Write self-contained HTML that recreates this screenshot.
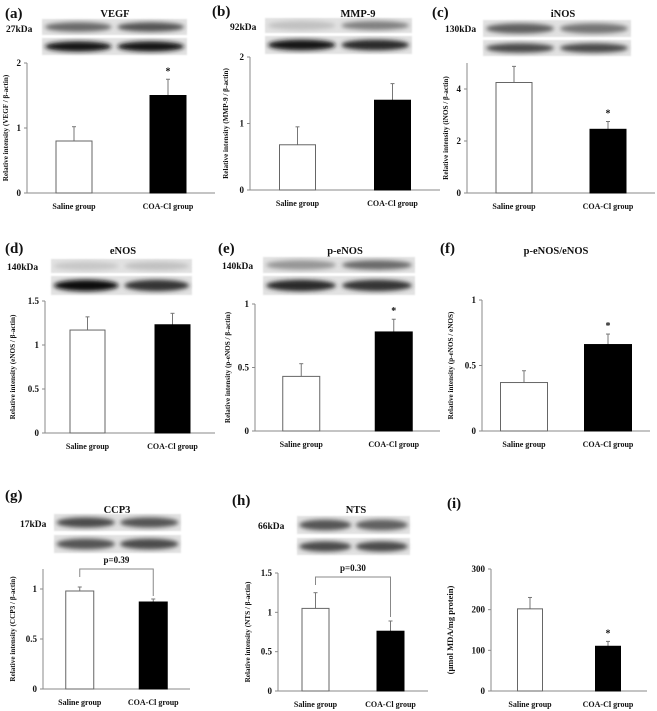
<!DOCTYPE html>
<html><head><meta charset="utf-8"><style>
html,body{margin:0;padding:0;background:#fff;}
svg{display:block;font-family:"Liberation Serif",serif;font-weight:bold;}
</style></head><body>
<svg id="fig" width="657" height="711" viewBox="0 0 657 711" xmlns="http://www.w3.org/2000/svg">
<defs>
<filter id="blur" x="-20%" y="-50%" width="140%" height="200%"><feGaussianBlur stdDeviation="2.2"/></filter>
<filter id="blur1" x="-5%" y="-20%" width="110%" height="140%"><feGaussianBlur stdDeviation="0.8"/></filter>
</defs>
</svg>
<script>
const categories = ["Saline group", "COA-Cl group"];
const vegfValues = [0.8, 1.5];
const vegfErrors = [0.22, 0.25];
const mmp9Values = [0.68, 1.35];
const mmp9Errors = [0.27, 0.25];
const inosValues = [4.25, 2.45];
const inosErrors = [0.62, 0.3];
const enosValues = [1.17, 1.23];
const enosErrors = [0.15, 0.13];
const penosValues = [0.43, 0.78];
const penosErrors = [0.1, 0.1];
const ratioValues = [0.37, 0.66];
const ratioErrors = [0.09, 0.08];
const ccp3Values = [0.98, 0.87];
const ccp3Errors = [0.04, 0.03];
const ntsValues = [1.05, 0.76];
const ntsErrors = [0.2, 0.13];
const mdaValues = [202, 110];
const mdaErrors = [28, 12];
const vegfTicks = [0, 1, 2];
const mmp9Ticks = [0, 1, 2];
const inosTicks = [0, 2, 4];
const enosTicks = [0, 0.5, 1, 1.5];
const penosTicks = [0, 0.5, 1];
const ratioTicks = [0, 0.5, 1];
const ccp3Ticks = [0, 0.5, 1];
const ntsTicks = [0, 0.5, 1, 1.5];
const mdaTicks = [0, 100, 200, 300];

const NS = "http://www.w3.org/2000/svg";
const svg = document.getElementById("fig");
function mk(tag, attrs, parent, text) {
  const e = document.createElementNS(NS, tag);
  for (const k in attrs) e.setAttribute(k, attrs[k]);
  if (text !== undefined) e.textContent = text;
  (parent || svg).appendChild(e);
  return e;
}

const panels = [
 {id:"vegf", letter:"(a)", lx:5, ly:18, title:"VEGF", tx:115, ty:17, values:vegfValues, errors:vegfErrors, ticks:vegfTicks, ymax:2,
  x0:27, xEnd:215, y0:193, yTop:63, bw:36, ytitle:"Relative intensity (VEGF / β-actin)", ytOff:19, ytSize:7.2, star:[false,true],
  blot:{x:42,w:145,t:[19,16],b:[38,17],kda:"27kDa",kx:6,ky:32,top:[0.55,0.65],bot:[0.95,0.95]}},
 {id:"mmp9", letter:"(b)", lx:212, ly:16, title:"MMP-9", tx:358, ty:17, values:mmp9Values, errors:mmp9Errors, ticks:mmp9Ticks, ymax:2,
  x0:250, xEnd:440, y0:190, yTop:57, bw:36, ytitle:"Relative intensity (MMP-9 / β-actin)", ytOff:22, ytSize:7.2, star:[false,false],
  blot:{x:265,w:147,t:[18,15],b:[36,18],kda:"92kDa",kx:230,ky:30,top:[0.15,0.45],bot:[0.95,0.85]}},
 {id:"inos", letter:"(c)", lx:432, ly:17, title:"iNOS", tx:563, ty:17, values:inosValues, errors:inosErrors, ticks:inosTicks, ymax:5,
  x0:467, xEnd:655, y0:193, yTop:63, bw:36, ytitle:"Relative intensity (iNOS / β-actin)", ytOff:19, ytSize:7.2, star:[false,true],
  blot:{x:483,w:148,t:[20,17],b:[40,16],kda:"130kDa",kx:445,ky:32,top:[0.6,0.5],bot:[0.7,0.7]}},
 {id:"enos", letter:"(d)", lx:5, ly:253, title:"eNOS", tx:123, ty:254, values:enosValues, errors:enosErrors, ticks:enosTicks, ymax:1.5,
  x0:45, xEnd:215, y0:433, yTop:301, bw:35, ytitle:"Relative intensity (eNOS / β-actin)", ytOff:30, ytSize:7.2, star:[false,false],
  blot:{x:51,w:141,t:[259,14],b:[276,19],kda:"140kDa",kx:7,ky:270,top:[0.12,0.15],bot:[1,0.8]}},
 {id:"penos", letter:"(e)", lx:218, ly:253, title:"p-eNOS", tx:345, ty:254, values:penosValues, errors:penosErrors, ticks:penosTicks, ymax:1,
  x0:255, xEnd:440, y0:431, yTop:304, bw:37, ytitle:"Relative intensity (p-eNOS / β-actin)", ytOff:25, ytSize:7.2, star:[false,true],
  blot:{x:263,w:152,t:[257,16],b:[276,19],kda:"140kDa",kx:222,ky:269,top:[0.35,0.55],bot:[0.85,0.8]}},
 {id:"ratio", letter:"(f)", lx:440, ly:253, title:"p-eNOS/eNOS", tx:556, ty:254, values:ratioValues, errors:ratioErrors, ticks:ratioTicks, ymax:1,
  x0:482, xEnd:650, y0:431, yTop:300, bw:47, ytitle:"Relative intensity (p-eNOS / eNOS)", ytOff:29, ytSize:7.2, star:[false,true], blot:null},
 {id:"ccp3", letter:"(g)", lx:5, ly:500, title:"CCP3", tx:117, ty:513, values:ccp3Values, errors:ccp3Errors, ticks:ccp3Ticks, ymax:1.2,
  x0:43, xEnd:190, y0:689, yTop:569, bw:28, ytitle:"Relative intensity (CCP3 / β-actin)", ytOff:28, ytSize:7.2, star:[false,false], p:{text:"p=0.39", y:569},
  blot:{x:54,w:127,t:[514,17],b:[535,18],kda:"17kDa",kx:20,ky:527,top:[0.7,0.65],bot:[0.65,0.7]}},
 {id:"nts", letter:"(h)", lx:232, ly:505, title:"NTS", tx:356, ty:513, values:ntsValues, errors:ntsErrors, ticks:ntsTicks, ymax:1.5,
  x0:278, xEnd:428, y0:691, yTop:573, bw:27, ytitle:"Relative intensity (NTS / β-actin)", ytOff:28, ytSize:7.2, star:[false,false], p:{text:"p=0.30", y:577},
  blot:{x:297,w:113,t:[516,18],b:[538,17],kda:"66kDa",kx:258,ky:529,top:[0.65,0.6],bot:[0.7,0.7]}},
 {id:"mda", letter:"(i)", lx:447, ly:508, title:null, values:mdaValues, errors:mdaErrors, ticks:mdaTicks, ymax:300,
  x0:491, xEnd:647, y0:691, yTop:569, bw:25, ytitle:"(μmol MDA/mg protein)", ytOff:38, ytSize:8.5, star:[false,true], blot:null}
];

function gray(d){const v=Math.round(225-d*215);return `rgb(${v},${v},${v})`;}

panels.forEach(p => {
  const g = mk("g", {});
  
  
  const yS = v => p.y0 - (v / p.ymax) * (p.y0 - p.yTop);
  const band = (p.xEnd - p.x0) / categories.length;
  const xC = i => p.x0 + (i + 0.5) * band;

  const L = mk("text", {x:p.lx, y:p.ly, "font-size":15, fill:"#111"}, g, p.letter);
  
  
  if (p.title) {
    const T = mk("text", {x:p.tx, y:p.ty, "font-size":10.5, "text-anchor":"middle", fill:"#111"}, g, p.title);
    
    
  }
  if (p.blot) {
    const b = p.blot;
    const bg = mk("g", {}, g);
    
    
    [[b.t, b.top], [b.b, b.bot]].forEach(([r, dens]) => {
      mk("rect", {x:b.x, y:r[0], width:b.w, height:r[1], fill:"#e2e2e2", filter:"url(#blur1)"}, bg);
      const lw = b.w / 2;
      dens.forEach((d, i) => {
        mk("ellipse", {cx:b.x + lw*(i+0.5), cy:r[0]+r[1]/2, rx:lw*0.46, ry:r[1]*0.3, fill:gray(d), filter:"url(#blur)"}, bg);
      });
    });
    const K = mk("text", {x:b.kx, y:b.ky, "font-size":9.5, fill:"#111"}, g, b.kda);
    
    
  }
  const ya = mk("line", {x1:p.x0, y1:p.yTop, x2:p.x0, y2:p.y0, stroke:"#8a8a8a", "stroke-width":1}, g);
  
  
  const xa = mk("line", {x1:p.x0, y1:p.y0, x2:p.xEnd, y2:p.y0, stroke:"#8a8a8a", "stroke-width":1}, g);
  
  
  p.ticks.forEach(t => {
    mk("line", {x1:p.x0-3, y1:yS(t), x2:p.x0, y2:yS(t), stroke:"#8a8a8a"}, g);
    const tl = mk("text", {x:p.x0-6, y:yS(t)+3, "font-size":9, "text-anchor":"end", fill:"#111"}, g, String(t));
    
    
  });
  const yc = (p.y0 + p.yTop) / 2;
  const tx = p.x0 - p.ytOff;
  const yt = mk("text", {x:tx, y:yc, "font-size":p.ytSize, "text-anchor":"middle", fill:"#111", transform:`rotate(-90 ${tx} ${yc})`}, g, p.ytitle);
  
  

  p.values.forEach((v, i) => {
    const cx = xC(i);
    const top = yS(v);
    const errTop = yS(v + p.errors[i]);
    const e = mk("line", {x1:cx, y1:errTop, x2:cx, y2:top, stroke:"#777", "stroke-width":1}, g);
    
    
    mk("line", {x1:cx-2, y1:errTop, x2:cx+2, y2:errTop, stroke:"#777"}, g);
    const r = mk("rect", {x:cx-p.bw/2, y:top, width:p.bw, height:p.y0-top, fill:i===0?"#fff":"#000", stroke:i===0?"#666":"#000", "stroke-width":1}, g);
    
    
    const lab = mk("text", {x:cx, y:p.y0+16, "font-size":8, "text-anchor":"middle", fill:"#111"}, g, categories[i]);
    
    
    if (p.star[i]) {
      const s = mk("text", {x:cx, y:errTop-5, "font-size":10, "text-anchor":"middle", fill:"#111"}, g, "*");
      
      
    }
  });
  if (p.p) {
    const x1 = xC(0), x2 = xC(1);
    const b1 = yS(p.values[0] + p.errors[0]) - 3, b2 = yS(p.values[1] + p.errors[1]) - 3;
    const br = mk("path", {d:`M${x1} ${Math.min(b1, p.p.y+8)} V${p.p.y} H${x2} V${Math.min(b2, p.p.y+40)}`, fill:"none", stroke:"#888"}, g);
    
    
    const pt = mk("text", {x:(x1+x2)/2, y:p.p.y-6, "font-size":9, "text-anchor":"middle", fill:"#111"}, g, p.p.text);
    
    
  }
});
</script>
</body></html>
